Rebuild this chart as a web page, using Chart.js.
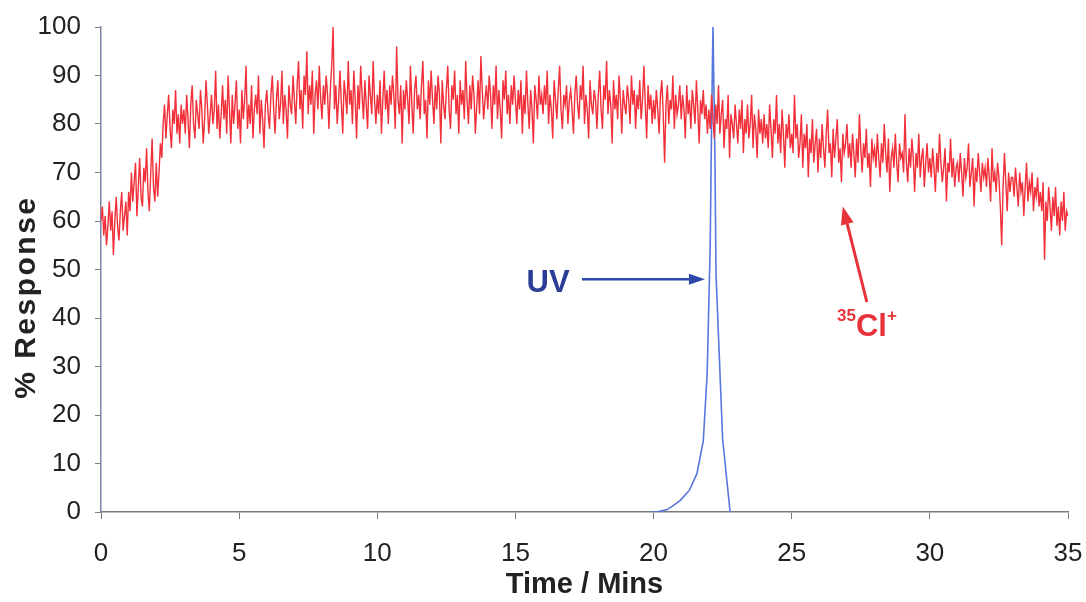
<!DOCTYPE html>
<html>
<head>
<meta charset="utf-8">
<title>% Response vs Time</title>
<script src="https://cdn.jsdelivr.net/npm/chart.js@4.4.0/dist/chart.umd.min.js"></script>
<style>
  html, body { margin: 0; padding: 0; background: #fff; }
  #chart-box { width: 1086px; height: 602px; }
</style>
</head>
<body>
<div id="chart-box"><canvas id="response-chart" width="1086" height="602"></canvas></div>
<script>
// 35Cl+ trace, one reading every 0.05 min from 0 to 35 min (20 per row = 1 min)
const clStart = 0;
const clStep = 0.05;
const clResponse = [
  60, 63, 57, 61, 55, 59, 64, 58, 62, 53, 60, 65, 59, 56, 62, 66, 58, 61, 64, 57,
  66, 62, 70, 64, 68, 72, 61, 67, 73, 65, 63, 71, 68, 75, 66, 62, 70, 77, 67, 64,
  72, 65, 70, 76, 73, 80, 84, 77, 82, 86, 79, 75, 83, 80, 87, 78, 82, 76, 84, 80,
  83, 78, 86, 81, 75, 84, 88, 80, 77, 85, 82, 79, 87, 83, 76, 81, 89, 84, 78, 82,
  86, 80, 83, 91, 79, 84, 77, 82, 88, 81, 85, 78, 90, 83, 76, 86, 80, 84, 89, 79,
  83, 76, 87, 81, 85, 92, 79, 84, 80, 88, 77, 83, 86, 82, 90, 78, 85, 81, 75, 84,
  87, 82, 79, 86, 90, 83, 78, 85, 89, 81, 84, 91, 80, 86, 83, 77, 88, 84, 82, 90,
  85, 80, 88, 93, 83, 87, 79, 90, 86, 95, 82, 88, 84, 91, 78, 86, 89, 83, 92, 85,
  81, 88, 84, 90, 86, 79, 87, 92, 100, 83, 88, 80, 85, 91, 84, 78, 89, 86, 82, 93,
  84, 87, 80, 91, 85, 77, 88, 83, 92, 86, 81, 89, 84, 79, 90, 86, 82, 93, 85, 80,
  86, 82, 89, 78, 85, 91, 83, 87, 80, 88, 84, 90, 86, 79, 96, 85, 82, 88, 76, 87,
  83, 89, 85, 80, 92, 84, 78, 87, 90, 83, 86, 81, 88, 93, 82, 85, 77, 89, 84, 91,
  85, 80, 88, 83, 90, 86, 76, 89, 84, 81, 87, 92, 83, 79, 88, 85, 91, 82, 86, 78,
  89, 84, 87, 81, 93, 85, 80, 88, 83, 90, 86, 78, 84, 89, 82, 94, 87, 81, 85, 88,
  83, 90, 86, 79, 88, 84, 92, 81, 87, 83, 77, 89, 85, 91, 82, 86, 80, 88, 84, 90,
  85, 80, 87, 83, 89, 78, 86, 82, 91, 84, 79, 87, 83, 76, 88, 85, 81, 90, 84, 86,
  82, 88, 84, 91, 80, 86, 83, 77, 89, 85, 81, 87, 92, 83, 79, 86, 84, 88, 80, 85,
  87, 83, 78, 86, 90, 84, 81, 88, 85, 92, 80, 86, 83, 77, 89, 84, 82, 87, 85, 79,
  86, 91, 83, 79, 88, 85, 93, 82, 87, 84, 76, 89, 83, 86, 81, 90, 85, 78, 87, 84,
  82, 88, 85, 80, 90, 84, 87, 79, 86, 83, 89, 81, 85, 92, 84, 77, 88, 83, 86, 80,
  85, 81, 87, 83, 78, 86, 89, 82, 72, 84, 88, 80, 85, 83, 90, 79, 86, 82, 84, 88,
  81, 86, 83, 77, 88, 82, 85, 79, 87, 84, 80, 89, 83, 76, 85, 82, 87, 81, 84, 78,
  83, 79, 86, 81, 77, 84, 80, 88, 78, 82, 85, 75, 81, 79, 86, 73, 82, 80, 77, 84,
  80, 76, 83, 79, 85, 74, 81, 78, 84, 77, 80, 86, 75, 82, 79, 73, 83, 78, 81, 76,
  82, 77, 80, 75, 84, 79, 73, 81, 78, 86, 76, 80, 74, 83, 78, 71, 80, 77, 82, 75,
  78, 74, 86, 77, 80, 73, 76, 82, 71, 78, 75, 80, 69, 77, 74, 81, 72, 76, 79, 70,
  77, 73, 80, 75, 71, 78, 83, 74, 76, 69, 79, 73, 77, 81, 72, 75, 68, 78, 74, 76,
  80, 73, 76, 71, 78, 74, 69, 77, 72, 82, 75, 70, 76, 73, 79, 71, 74, 67, 77, 73,
  75, 71, 78, 73, 69, 76, 72, 80, 74, 70, 77, 66, 73, 75, 71, 78, 72, 68, 76, 73,
  74, 70, 82, 72, 68, 75, 71, 77, 73, 66, 74, 71, 78, 69, 73, 75, 67, 72, 76, 70,
  73, 69, 75, 71, 66, 74, 70, 78, 72, 68, 71, 75, 64, 72, 70, 77, 69, 73, 67, 71,
  72, 68, 74, 70, 65, 73, 69, 71, 76, 67, 70, 73, 63, 71, 68, 74, 70, 66, 72, 69,
  71, 67, 73, 69, 64, 75, 68, 70, 66, 72, 69, 63, 55, 67, 74, 68, 62, 70, 66, 69,
  69, 65, 71, 67, 63, 70, 66, 68, 61, 67, 72, 64, 68, 66, 70, 62, 67, 65, 69, 63,
  66, 62, 68, 52, 64, 60, 67, 63, 58, 65, 61, 67, 59, 63, 57, 64, 60, 66, 58, 62,
  61
];

// UV trace (baseline sits under the time axis until ~20 min)
const uvTimes = [19.9, 20.1, 20.5, 20.95, 21.3, 21.57, 21.8, 21.94, 22.05, 22.1, 22.15, 22.22, 22.26, 22.5, 22.77];
const uvResponse = [0, 0, 0.5, 2.3, 4.5, 7.9, 14.7, 28.6, 55, 80, 100, 74, 49, 15, 0];

const xTicks = [0, 5, 10, 15, 20, 25, 30, 35];
const yTicks = [0, 10, 20, 30, 40, 50, 60, 70, 80, 90, 100];

const fontFamily = "'Liberation Sans', Arial, sans-serif";

function drawArrow(ctx, x1, y1, x2, y2, color, width, headLen, headWidth) {
    const angle = Math.atan2(y2 - y1, x2 - x1);
    const bx = x2 - headLen * Math.cos(angle);
    const by = y2 - headLen * Math.sin(angle);
    ctx.strokeStyle = color;
    ctx.fillStyle = color;
    ctx.lineWidth = width;
    ctx.beginPath();
    ctx.moveTo(x1, y1);
    ctx.lineTo(bx, by);
    ctx.stroke();
    ctx.beginPath();
    ctx.moveTo(x2, y2);
    ctx.lineTo(bx + headWidth / 2 * Math.sin(angle), by - headWidth / 2 * Math.cos(angle));
    ctx.lineTo(bx - headWidth / 2 * Math.sin(angle), by + headWidth / 2 * Math.cos(angle));
    ctx.closePath();
    ctx.fill();
}

// labels + arrows for the two traces, and the y title
const traceLabels = {
    id: 'traceLabels',
    afterDraw(chart) {
        const { ctx, scales: { x, y } } = chart;
        ctx.save();

        ctx.fillStyle = '#2c3d96';
        ctx.font = `bold 31px ${fontFamily}`;
        ctx.textAlign = 'center';
        ctx.textBaseline = 'middle';
        ctx.fillText('UV', x.getPixelForValue(16.18), y.getPixelForValue(47.2));
        drawArrow(ctx, x.getPixelForValue(17.41), y.getPixelForValue(48), x.getPixelForValue(21.86), y.getPixelForValue(48), '#2d48a8', 2.5, 16, 11);

        drawArrow(ctx, x.getPixelForValue(27.72), y.getPixelForValue(43.3), x.getPixelForValue(26.85), y.getPixelForValue(63), '#e8323a', 3, 18, 13);

        const lx = x.getPixelForValue(26.64);
        const ly = y.getPixelForValue(36.3);
        ctx.fillStyle = '#e8323a';
        ctx.textAlign = 'left';
        ctx.textBaseline = 'alphabetic';
        ctx.font = `bold 17px ${fontFamily}`;
        ctx.fillText('35', lx, ly - 15);
        let w = ctx.measureText('35').width;
        ctx.font = `bold 31px ${fontFamily}`;
        ctx.fillText('Cl', lx + w, ly);
        w += ctx.measureText('Cl').width;
        ctx.font = `bold 17px ${fontFamily}`;
        ctx.fillText('+', lx + w, ly - 15);

        // y axis title
        ctx.translate(27, y.getPixelForValue(44.3));
        ctx.rotate(-Math.PI / 2);
        ctx.fillStyle = '#222';
        ctx.font = `bold 30px ${fontFamily}`;
        ctx.letterSpacing = '2.5px';
        ctx.textAlign = 'center';
        ctx.textBaseline = 'middle';
        ctx.fillText('% Response', 0, 0);

        ctx.restore();
    }
};

document.addEventListener('DOMContentLoaded', () => {
    const ctx = document.getElementById('response-chart').getContext('2d');

    const clPoints = clResponse.map((v, i) => ({ x: clStart + i * clStep, y: v }));
    const uvPoints = uvTimes.map((t, i) => ({ x: t, y: uvResponse[i] }));

    new Chart(ctx, {
        type: 'line',
        data: {
            datasets: [
                {
                    label: '35Cl+',
                    data: clPoints,
                    borderColor: '#f2303a',
                    borderWidth: 1.4,
                    pointRadius: 0,
                    tension: 0
                },
                {
                    label: 'UV',
                    data: uvPoints,
                    borderColor: '#5677dd',
                    borderWidth: 1.6,
                    pointRadius: 0,
                    tension: 0
                }
            ]
        },
        options: {
            responsive: false,
            animation: false,
            layout: { padding: { left: 0, right: 18, top: 27, bottom: 0 } },
            plugins: {
                legend: { display: false },
                tooltip: { enabled: false }
            },
            scales: {
                x: {
                    type: 'linear',
                    min: 0,
                    max: 35,
                    afterBuildTicks: (scale) => { scale.ticks = xTicks.map(v => ({ value: v })); },
                    afterFit: (scale) => {
                        scale.height = 90;
                        scale.paddingLeft = 0;
                        scale.paddingRight = 0;
                    },
                    border: { color: '#7c7c7c', width: 1.5 },
                    grid: { drawOnChartArea: false, color: '#7c7c7c', tickLength: 7 },
                    ticks: { color: '#222', padding: 19, font: { family: fontFamily, size: 26 } },
                    title: {
                        display: true,
                        text: 'Time / Mins',
                        color: '#222',
                        padding: { top: 0, bottom: 0 },
                        font: { family: fontFamily, size: 29, weight: 'bold' }
                    }
                },
                y: {
                    min: 0,
                    max: 100,
                    afterBuildTicks: (scale) => { scale.ticks = yTicks.map(v => ({ value: v })); },
                    afterFit: (scale) => {
                        scale.width = 101;
                        scale.paddingTop = 0;
                        scale.paddingBottom = 0;
                    },
                    border: { color: '#7d86a8', width: 1.5 },
                    grid: { drawOnChartArea: false, color: '#7c7c7c', tickLength: 6 },
                    ticks: { color: '#222', padding: 14, font: { family: fontFamily, size: 26 } },
                    title: { display: false }
                }
            }
        },
        plugins: [traceLabels]
    });
});
</script>
</body>
</html>
